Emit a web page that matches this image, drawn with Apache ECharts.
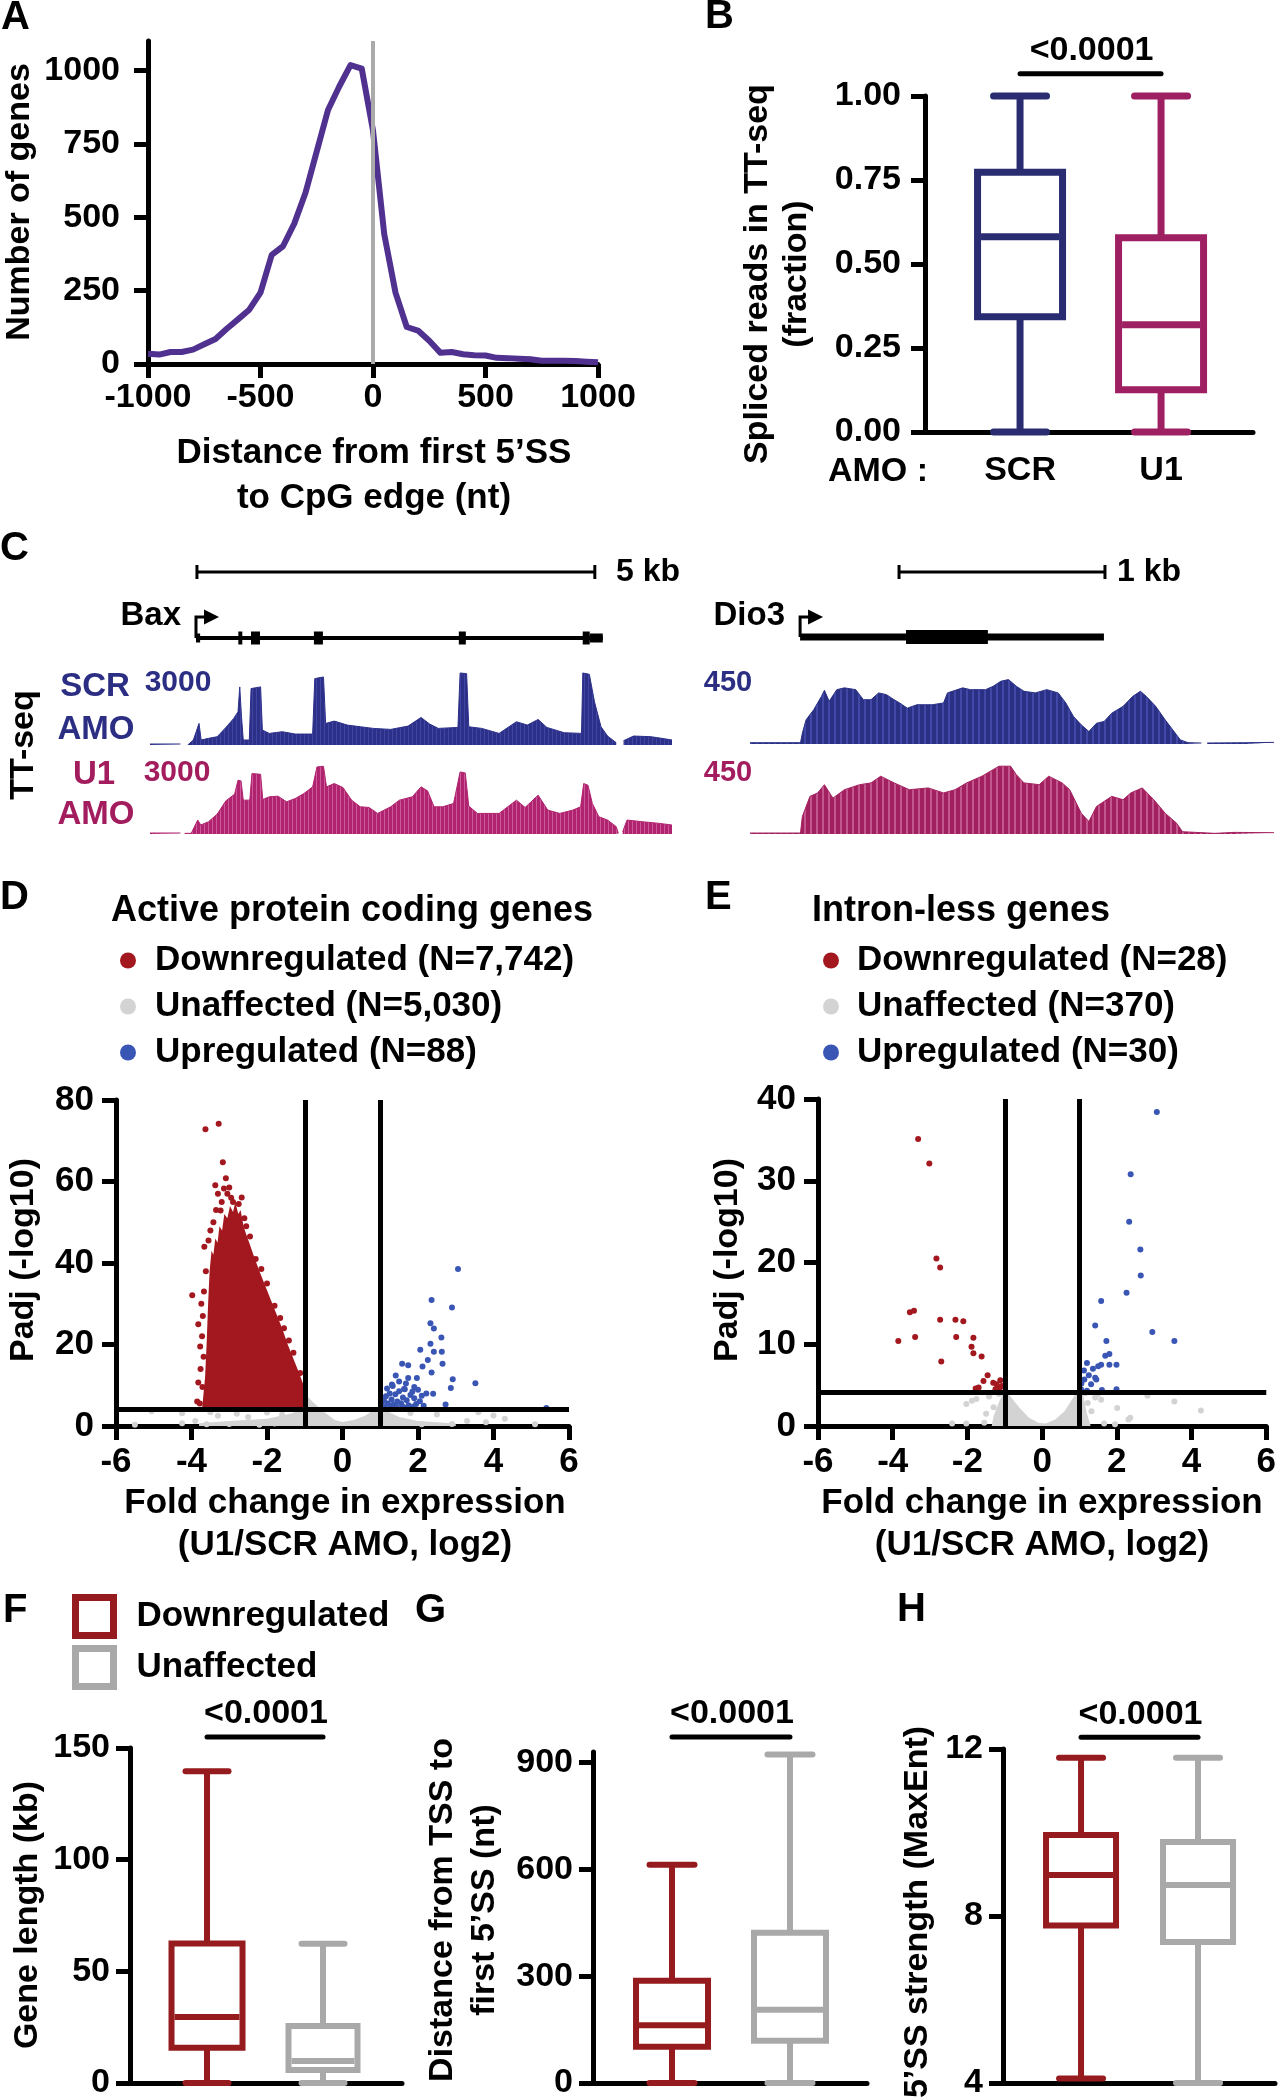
<!DOCTYPE html>
<html><head><meta charset="utf-8">
<script src="https://cdn.jsdelivr.net/npm/echarts@6/dist/echarts.min.js"></script>
<style>html,body{margin:0;padding:0;background:#fff}#c{width:1279px;height:2100px}</style>
</head><body><div id="c"></div>
<script>
// ---------------- DATA ----------------
// Panel A: distance from first 5'SS to CpG edge
const A_X = [-1000,-950,-900,-850,-800,-750,-700,-650,-600,-550,-500,-450,-400,-350,-300,-250,-200,-150,-100,-50,0,50,100,150,200,250,300,350,400,450,500,550,600,650,700,750,800,850,900,950,1000];
const A_Y = [35,32,41,41,49,67,85,120,152,185,243,372,401,478,583,724,865,945,1018,1006,795,442,243,126,114,79,38,41,33,30,29,21,20,18,16,11,11,11,10,8,6];
const A_YTICKS = [0,250,500,750,1000];

// Panel B: spliced reads fraction  [min, Q1, median, Q3, max]
const B_GROUPS = ['SCR','U1'];
const B_SCR = [0, 0.343, 0.581, 0.773, 1.00];
const B_U1  = [0, 0.126, 0.319, 0.578, 1.00];

// Panel C: TT-seq coverage  [bp, reads]
const BAX_SCR = [[0,41],[382,41],[409,null],[474,0],[545,205],[616,887],[643,205],[736,273],[845,341],[954,723],[1052,1091],[1106,1364],[1128,2387],[1150,1159],[1172,205],[1248,205],[1270,2319],[1390,2387],[1412,614],[1499,477],[1662,546],[1826,450],[2044,450],[2071,2728],[2180,2796],[2207,887],[2316,982],[2480,818],[2643,750],[2807,682],[3025,641],[3243,777],[3406,1132],[3515,859],[3624,682],[3870,723],[3897,2960],[3979,2933],[4006,750],[4169,682],[4387,477],[4605,955],[4742,818],[4878,1050],[4987,723],[5205,505],[5423,477],[5439,2960],[5521,2905],[5586,1773],[5668,750],[5750,368],[5859,95],[5880,null],[5951,177],[6077,368],[6295,341],[6431,273],[6560,205]];
const BAX_U1 = [[0,41],[382,41],[400,null],[436,27],[518,27],[600,573],[638,368],[736,505],[845,818],[954,1364],[1063,1637],[1106,2210],[1144,2182],[1172,1391],[1254,1391],[1281,2482],[1390,2455],[1417,1418],[1499,1528],[1608,1555],[1717,1323],[1826,1459],[1935,1664],[2044,1937],[2098,2755],[2180,2783],[2218,1937],[2316,2073],[2425,1910],[2534,1391],[2643,1118],[2752,1091],[2861,846],[3025,1118],[3134,1391],[3297,1528],[3406,1937],[3488,1773],[3570,1118],[3679,1118],[3815,1255],[3897,2551],[3962,2510],[4006,1146],[4115,846],[4387,846],[4605,1391],[4714,1091],[4878,1596],[4998,982],[5150,846],[5314,982],[5412,1118],[5450,2073],[5504,2005],[5559,1255],[5641,709],[5750,573],[5859,300],[5886,27],[5910,null],[5940,95],[5995,573],[6186,505],[6404,436],[6560,368]];
const DIO_SCR = [[0,8],[245,8],[254,66],[272,149],[309,211],[347,294],[361,331],[384,263],[421,335],[458,346],[513,335],[550,273],[587,273],[624,315],[662,304],[699,273],[726,253],[763,221],[810,242],[884,242],[939,253],[958,315],[1032,346],[1069,335],[1143,335],[1180,356],[1217,387],[1254,397],[1292,356],[1329,325],[1384,315],[1440,335],[1495,315],[1532,253],[1569,170],[1607,118],[1644,77],[1681,128],[1718,139],[1755,190],[1810,232],[1857,294],[1894,325],[1922,294],[1968,232],[2014,149],[2051,87],[2088,25],[2125,8],[2190,6],[2205,null],[2218,6],[2403,8],[2542,10]];
const DIO_U1 = [[0,6],[245,6],[254,108],[291,232],[328,253],[361,304],[402,221],[458,273],[532,304],[587,315],[634,356],[699,315],[773,273],[865,284],[939,253],[995,273],[1051,315],[1125,356],[1208,418],[1264,418],[1292,366],[1329,315],[1403,304],[1449,356],[1514,315],[1551,273],[1607,128],[1644,77],[1681,170],[1755,232],[1810,211],[1847,253],[1903,284],[1959,211],[2014,128],[2070,66],[2098,14],[2255,4],[2348,10],[2542,8]];
// gene models [start, end] (bp) and exons [start, end, type]
const BAX_TX = [[578, 5690]];
const BAX_EXONS = [[578,630,'utr'],[1110,1160,'cds'],[1269,1382,'cds'],[2060,2173,'cds'],[3881,3969,'cds'],[5438,5526,'cds'],[5526,5690,'utr']];
const BAX_SCALE = [[590, 5590]];
const DIO_TX = [[243, 1717]];
const DIO_EXONS = [[757,1154,'cds']];
const DIO_SCALE = [[723, 1722]];

// Panel D: active protein coding genes  [log2FC, -log10 padj]
const D_DOWN_CLOUD = [[-3.72,4.2],[-3.64,12],[-3.6,20],[-3.56,30],[-3.52,38],[-3.47,43],[-3.42,42],[-3.37,46],[-3.31,45],[-3.26,49],[-3.19,48],[-3.13,52],[-3.05,51],[-2.98,54],[-2.9,52.5],[-2.84,55],[-2.76,52],[-2.7,53],[-2.62,49],[-2.55,47],[-2.47,45],[-2.36,42],[-2.2,38],[-2.05,34.5],[-1.9,31],[-1.75,27.5],[-1.6,24],[-1.45,20],[-1.3,16.5],[-1.15,13],[-1.03,10],[-1.0,6],[-1.0,4.2]];
const D_DOWN = [[-3.63,72.8],[-3.28,74.2],[-3.17,64.7],[-3.09,60.8],[-3.37,59.1],[-3.14,58.3],[-2.67,56.1],[-2.90,55.0],[-3.23,52.9],[-3.98,32.1],[-3.82,25.0],[-3.77,19.5],[-3.82,10.7],[-3.71,9.6],[-3.62,38],[-3.67,33],[-3.7,27],[-3.72,22],[-3.76,14],[-3.66,44],[-3.5,48],[-3.05,57],[-2.75,54.5],[-3.35,53],[-3.55,45.5],[-3.85,6],[-3.78,5.5],[-2.55,49],[-2.3,41],[-2.0,35],[-1.8,29.5],[-1.55,24],[-1.3,18],[-1.12,13],[-2.95,56],[-3.2,55],[-3.42,50],[-2.6,51],[-3.0,58.5],[-3.3,57],[-3.68,17],[-3.74,30],[-2.45,46.5],[-2.15,38.5],[-1.65,26.5],[-1.42,21]];
const D_UNAFF_CLOUD = [[-3.8,0],[-3.8,0.7],[-3.0,1.2],[-2.0,1.8],[-1.3,3.2],[-1.0,8],[-0.8,6],[-0.5,3.5],[-0.2,1.5],[0,1],[0.3,1.5],[0.6,2.5],[0.9,4.5],[1.1,4],[1.5,2.2],[2.0,1.2],[3.0,0.6],[3.0,0]];
const D_UNAFF = [[-5.06,3.6],[-4.25,3.1],[-4.25,0.7],[-3.9,1.2],[4.3,1.8],[3.3,1.2],[2.9,0.5],[3.8,0.9],[-5.5,0.3],[2.5,2.8],[1.8,3.2],[2.1,0.4],[5.1,0.4],[-3.6,0.4],[-2.2,0.3],[3.6,3.4],[4.0,2.6],[-3.3,2.5],[-2.8,3.0],[-2.5,2.2],[-2.0,3.3],[-1.6,2.8],[-3.5,3.4],[-3.0,0.5],[-1.8,0.6]];
const D_UP = [[3.06,38.5],[2.36,30.9],[2.90,29.1],[2.33,25.2],[2.42,23.9],[2.62,21.7],[2.33,20.2],[2.06,18.7],[2.42,18.2],[2.63,18.2],[2.26,16.2],[2.65,15.3],[1.58,15.3],[1.74,14.9],[2.12,14.6],[2.36,13.1],[1.97,11.8],[2.92,11.5],[3.52,10.5],[1.41,12.4],[1.74,11.8],[2.22,8.0],[2.87,9.3],[2.73,5.3],[1.90,9.6],[1.63,9.1],[1.31,10.2],[5.4,4.4],
  [1.05,5.0],[1.1,6.2],[1.15,7.3],[1.2,5.5],[1.25,8.0],[1.3,6.5],[1.35,5.2],[1.4,7.8],[1.45,6.0],[1.5,8.5],[1.55,5.6],[1.6,7.0],[1.65,9.0],[1.7,6.3],[1.75,5.1],[1.8,7.6],[1.85,8.4],[1.9,6.8],[1.95,5.4],[2.0,8.9],[2.05,6.1],[2.1,7.4],[1.12,4.6],[1.28,4.8],[1.42,4.7],[1.58,4.9],[1.72,4.6],[1.88,4.8],[2.15,5.0],[2.4,7.9],[1.18,9.2],[1.33,9.8],[1.5,10.9],[1.68,10.4]];
const D_THRESH = {fc: 1, padj: 4.16};

// Panel E: intron-less genes
const E_DOWN = [[-3.32,35.1],[-3.02,32.1],[-2.83,20.5],[-2.73,19.4],[-3.54,13.9],[-3.43,14.1],[-3.85,10.4],[-3.40,10.9],[-2.73,13.0],[-2.32,13.0],[-2.11,12.8],[-2.30,10.9],[-1.84,10.8],[-1.89,9.7],[-1.84,8.9],[-1.62,8.5],[-2.70,7.9],[-1.46,6.2],[-1.57,5.5],[-1.31,5.3],[-1.22,5.1],[-1.12,5.6],[-1.78,4.6],[-1.73,4.6],[-1.14,4.6],[-1.08,4.9],[-1.25,4.5],[-1.70,4.7]];
const E_UP = [[3.07,38.4],[2.37,30.8],[2.33,25.0],[2.63,21.6],[2.64,18.4],[2.26,16.3],[1.58,15.3],[1.42,12.3],[2.95,11.5],[3.54,10.4],[1.72,10.4],[1.69,8.6],[1.80,8.8],[1.20,7.7],[1.58,7.5],[1.80,7.5],[1.99,7.5],[1.36,7.0],[1.50,7.3],[1.12,6.8],[1.13,5.7],[1.45,5.7],[1.42,5.9],[1.31,5.1],[1.99,4.5],[1.04,4.5],[1.2,4.3],[1.6,4.4],[1.25,6.2],[1.05,5.2]];
const E_UNAFF_CLOUD = [[-1.35,0],[-1.3,1.2],[-1.15,3.0],[-1.0,4.4],[-0.85,3.6],[-0.6,2.2],[-0.35,1.0],[-0.1,0.4],[0.1,0.3],[0.35,0.8],[0.6,1.8],[0.85,3.6],[1.0,5.0],[1.1,3.8],[1.2,1.5],[1.3,0]];
const E_UNAFF = [[-2.41,0.3],[-2.03,2.7],[-2.03,0.3],[-1.76,3.3],[-1.88,3.1],[-1.5,1.5],[-1.42,3.6],[-1.3,2.3],[-1.15,3.9],[-1.55,0.4],[1.58,3.2],[1.66,0.3],[2.01,2.2],[2.31,0.8],[2.36,1.0],[2.82,3.7],[3.54,3.0],[4.25,1.9],[1.42,3.5],[1.32,1.8],[1.22,2.8],[1.5,3.9],[1.95,0.2],[1.15,4.0]];
const E_THRESH = {fc: 1, padj: 4.09};

// Panels F-H: [min, Q1, median, Q3, max]
const F_DOWN = [0, 15.8, 29.5, 62.5, 139.6];
const F_UNAFF = [0, 5.8, 9.9, 25.5, 62.3];
const G_DOWN = [0, 102, 162, 287, 613];
const G_UNAFF = [0, 118.5, 206, 422, 923];
const H_DOWN = [4.11, 7.77, 8.98, 9.94, 11.79];
const H_UNAFF = [4.0, 7.38, 8.74, 9.77, 11.79];
const P_LABEL = '<0.0001';

// ---------------- STYLE ----------------
const FONT = '"Liberation Sans", Arial, Helvetica, sans-serif';
const K = '#000';
const PURPLE = '#51318f';
const B_NAVY = '#2a2c72', B_MAG = '#9e1f62';
const SCR_TXT = '#2b2e83', U1_TXT = '#a21c5e';
const RED = '#961b1e', GREY = '#a9a9a9';
const D_RED = '#a3181f', D_BLUE = '#3a56b4', D_GREY = '#d3d3d3';

function stripe(c1, c2, period, w2) {
  const cv = document.createElement('canvas'); cv.width = period; cv.height = 4;
  const ctx = cv.getContext('2d'); ctx.fillStyle = c1; ctx.fillRect(0, 0, period, 4);
  ctx.fillStyle = c2; ctx.fillRect(0, 0, w2, 4); return cv;
}
function merge(a, b) {
  const o = Object.assign({}, a);
  for (const k in b) {
    if (b[k] && typeof b[k] === 'object' && !Array.isArray(b[k]) && a[k] && typeof a[k] === 'object') o[k] = merge(a[k], b[k]);
    else o[k] = b[k];
  }
  return o;
}
const plain = v => String(v);
function vAxis(gi, o) {
  return merge({type:'value', gridIndex:gi,
    axisLine:{show:true, onZero:false, lineStyle:{color:K, width:5}},
    axisTick:{show:true, length:14, lineStyle:{color:K, width:5}},
    axisLabel:{color:K, fontSize:34, fontWeight:'bold', fontFamily:FONT, formatter:plain},
    splitLine:{show:false}}, o || {});
}
function hAxis(gi, o) { return merge({type:'value', gridIndex:gi, show:false, splitLine:{show:false}}, o || {}); }

function boxRender(st) {
  return function (params, api) {
    const x = api.value(0);
    const mn = api.coord([x, api.value(1)]), q1 = api.coord([x, api.value(2)]);
    const md = api.coord([x, api.value(3)]), q3 = api.coord([x, api.value(4)]);
    const mx = api.coord([x, api.value(5)]);
    const c = api.visual('color'), cx = mn[0], lw = st.lw;
    const ln = (x1, y1, x2, y2, cap) => ({type:'line', shape:{x1, y1, x2, y2}, style:{stroke:c, lineWidth:lw, lineCap:cap || 'butt'}});
    return {type:'group', children:[
      ln(cx, mx[1], cx, q3[1]), ln(cx, q1[1], cx, mn[1]),
      ln(cx - st.cw/2, mx[1], cx + st.cw/2, mx[1], 'round'),
      ln(cx - st.cw/2, mn[1], cx + st.cw/2, mn[1], 'round'),
      {type:'rect', shape:{x:cx - st.bw/2 + lw/2, y:q3[1], width:st.bw - lw, height:q1[1] - q3[1]}, style:{fill:'#fff', stroke:c, lineWidth:lw}},
      ln(cx - st.bw/2 + lw, md[1], cx + st.bw/2 - lw, md[1])
    ]};
  };
}
function boxSeries(name, gi, color, x, vals, st) {
  return {type:'custom', name, xAxisIndex:gi, yAxisIndex:gi, clip:false, z:3, itemStyle:{color},
    encode:{x:0, y:[1,2,3,4,5]}, data:[[x].concat(vals)], renderItem:boxRender(st)};
}
function sigSeries(gi, x1, x2, yv) {
  return {type:'custom', xAxisIndex:gi, yAxisIndex:gi, clip:false, z:4, silent:true,
    encode:{x:[0,1], y:2}, data:[[x1, x2, yv]],
    renderItem:(p, api) => {
      const a = api.coord([api.value(0), api.value(2)]), b = api.coord([api.value(1), api.value(2)]);
      return {type:'group', children:[
        {type:'line', shape:{x1:a[0], y1:a[1], x2:b[0], y2:b[1]}, style:{stroke:K, lineWidth:5, lineCap:'round'}},
        {type:'text', x:(a[0]+b[0])/2 + 1, y:a[1] - 23, style:{text:P_LABEL, fill:K, font:'bold 34px ' + FONT, align:'center', verticalAlign:'middle'}}
      ]};
    }};
}
function trackSeries(gi, data, col, pat) {
  return {type:'line', xAxisIndex:gi, yAxisIndex:gi, data, showSymbol:false, symbol:'none', connectNulls:false,
    lineStyle:{color:col, width:1}, areaStyle:{color:{image:pat, repeat:'repeat'}, opacity:1}, silent:true};
}
function geneSeries(gi, tx, lw, ah) {
  return {type:'custom', xAxisIndex:gi, yAxisIndex:gi, clip:false, silent:true, encode:{x:[0,1]}, data:tx,
    renderItem:(p, api) => {
      const a = api.coord([api.value(0), 0]), b = api.coord([api.value(1), 0]), y = a[1];
      return {type:'group', children:[
        {type:'line', shape:{x1:a[0], y1:y, x2:b[0], y2:y}, style:{stroke:K, lineWidth:lw}},
        {type:'polyline', shape:{points:[[a[0], y], [a[0], y - ah], [a[0] + 10, y - ah]]}, style:{stroke:K, lineWidth:3, fill:null}},
        {type:'polygon', shape:{points:[[a[0] + 8, y - ah - 7.5], [a[0] + 23, y - ah], [a[0] + 8, y - ah + 7.5]]}, style:{fill:K}}
      ]};
    }};
}
function exonSeries(gi, ex, hC, hU) {
  return {type:'custom', xAxisIndex:gi, yAxisIndex:gi, clip:false, silent:true, encode:{x:[0,1]}, data:ex,
    renderItem:(p, api) => {
      const a = api.coord([api.value(0), 0]), b = api.coord([api.value(1), 0]);
      const h = ex[p.dataIndex][2] === 'cds' ? hC : hU;
      return {type:'rect', shape:{x:a[0], y:a[1] - h/2, width:Math.max(b[0] - a[0], 3), height:h}, style:{fill:K}};
    }};
}
function scaleSeries(gi, sc) {
  return {type:'custom', xAxisIndex:gi, yAxisIndex:gi, clip:false, silent:true, encode:{x:[0,1]}, data:sc,
    renderItem:(p, api) => {
      const a = api.coord([api.value(0), 1]), b = api.coord([api.value(1), 1]);
      const ls = {stroke:K, lineWidth:3};
      return {type:'group', children:[
        {type:'line', shape:{x1:a[0], y1:a[1], x2:b[0], y2:b[1]}, style:ls},
        {type:'line', shape:{x1:a[0], y1:a[1] - 7, x2:a[0], y2:a[1] + 7}, style:ls},
        {type:'line', shape:{x1:b[0], y1:b[1] - 7, x2:b[0], y2:b[1] + 7}, style:ls}
      ]};
    }};
}
function cloudSeries(name, gi, color, pts, z) {
  return {type:'custom', name, xAxisIndex:gi, yAxisIndex:gi, silent:true, z, itemStyle:{color},
    data:[pts[0]], renderItem:(p, api) => ({type:'polygon', shape:{points:pts.map(q => api.coord(q))}, style:{fill:color}})};
}
function scat(name, gi, data, color, z) {
  return {type:'scatter', name, xAxisIndex:gi, yAxisIndex:gi, data, symbolSize:6, itemStyle:{color, opacity:1}, z, silent:true};
}
function guideSeries(gi, marks, color, width, z) {
  return {type:'line', xAxisIndex:gi, yAxisIndex:gi, data:[], silent:true, z,
    markLine:{silent:true, symbol:'none', animation:false, label:{show:false}, lineStyle:{color, width, type:'solid'}, data:marks}};
}
function txt(text, x, y, size, o) {
  o = o || {};
  return {type:'text', x, y, rotation:o.rot || 0, z:100, silent:true,
    style:{text, fill:o.color || K, font:'bold ' + size + 'px ' + FONT, align:o.align || 'center', verticalAlign:'middle', lineHeight:o.lh || size}};
}

const scrPatBax = stripe('#2c3089', '#4146a2', 4, 1), u1PatBax = stripe('#b0236f', '#cc5a9b', 4, 1);
const scrPatDio = stripe('#2a3084', '#4248a6', 6, 2), u1PatDio = stripe('#a3205f', '#c2568f', 6, 2);

const grids = [
  {left:148, top:41, width:450, height:323},    // 0 A
  {left:925, top:96, width:328, height:336},    // 1 B
  {left:150, top:672, width:522, height:73},    // 2 Bax SCR
  {left:150, top:761, width:522, height:73},    // 3 Bax U1
  {left:750, top:671, width:524, height:73},    // 4 Dio3 SCR
  {left:750, top:761, width:524, height:73},    // 5 Dio3 U1
  {left:150, top:572, width:522, height:66},    // 6 Bax gene
  {left:750, top:572, width:524, height:65},    // 7 Dio3 gene
  {left:116, top:1100, width:453, height:326},  // 8 D
  {left:818, top:1099, width:454, height:327},  // 9 E
  {left:130, top:1748, width:272, height:338},  // 10 F
  {left:593, top:1752, width:274, height:335},  // 11 G
  {left:1003, top:1749, width:272, height:338}  // 12 H
];
const xAxes = [
  vAxis(0, {min:-1000, max:1000, interval:500, axisLabel:{margin:17}}),
  vAxis(1, {min:0.326, max:2.652, axisTick:{show:false}, axisLabel:{margin:22, customValues:[1,2], formatter:v => B_GROUPS[Math.round(v) - 1]}}),
  hAxis(2, {min:0, max:6560}), hAxis(3, {min:0, max:6560}),
  hAxis(4, {min:0, max:2542}), hAxis(5, {min:0, max:2542}),
  hAxis(6, {min:0, max:6560}), hAxis(7, {min:0, max:2542}),
  vAxis(8, {min:-6, max:6, interval:2, axisLabel:{margin:19, fontSize:35}}),
  vAxis(9, {min:-6, max:6, interval:2, axisLabel:{margin:19, fontSize:35}}),
  vAxis(10, {min:0.336, max:2.681, axisTick:{show:false}, axisLabel:{show:false}}),
  vAxis(11, {min:0.33, max:2.653, axisTick:{show:false}, axisLabel:{show:false}}),
  vAxis(12, {min:0.333, max:2.658, axisTick:{show:false}, axisLabel:{show:false}})
];
const yAxes = [
  vAxis(0, {min:0, max:1100, axisTick:{customValues:A_YTICKS}, axisLabel:{customValues:A_YTICKS, margin:28}}),
  vAxis(1, {min:0, max:1, interval:0.25, axisLabel:{margin:24, formatter:v => v.toFixed(2)}}),
  hAxis(2, {min:0, max:3000}), hAxis(3, {min:0, max:3000}),
  hAxis(4, {min:0, max:450}), hAxis(5, {min:0, max:450}),
  hAxis(6, {min:0, max:1}), hAxis(7, {min:0, max:1}),
  vAxis(8, {min:0, max:80, interval:20, axisLabel:{margin:22, fontSize:35}}),
  vAxis(9, {min:0, max:40, interval:10, axisLabel:{margin:22, fontSize:35}}),
  vAxis(10, {min:0, max:150, interval:50, axisLabel:{margin:20}}),
  vAxis(11, {min:0, max:930, axisTick:{customValues:[0,300,600,900]}, axisLabel:{customValues:[0,300,600,900], margin:20}}),
  vAxis(12, {min:4, max:12, interval:4, axisLabel:{margin:20}})
];

const series = [
  // A
  guideSeries(0, [{xAxis:0}], '#aaaaaa', 4, 1),
  {type:'line', xAxisIndex:0, yAxisIndex:0, data:A_X.map((x, i) => [x, A_Y[i]]), showSymbol:false, symbol:'none', z:3,
    lineStyle:{color:PURPLE, width:6, join:'round'}, silent:true},
  // B
  boxSeries('SCR', 1, B_NAVY, 1, B_SCR, {bw:92, cw:53, lw:7}),
  boxSeries('U1', 1, B_MAG, 2, B_U1, {bw:92, cw:53, lw:7}),
  sigSeries(1, 1, 2, 1.066),
  // C
  trackSeries(2, BAX_SCR, '#2c3089', scrPatBax),
  trackSeries(3, BAX_U1, '#b0236f', u1PatBax),
  trackSeries(4, DIO_SCR, '#2a3084', scrPatDio),
  trackSeries(5, DIO_U1, '#a3205f', u1PatDio),
  geneSeries(6, BAX_TX, 4, 21), exonSeries(6, BAX_EXONS, 13, 9), scaleSeries(6, BAX_SCALE),
  geneSeries(7, DIO_TX, 7, 20), exonSeries(7, DIO_EXONS, 14, 9), scaleSeries(7, DIO_SCALE),
  // D
  cloudSeries('Unaffected (N=5,030)', 8, D_GREY, D_UNAFF_CLOUD, 2),
  scat('Unaffected (N=5,030)', 8, D_UNAFF, D_GREY, 2),
  cloudSeries('Downregulated (N=7,742)', 8, D_RED, D_DOWN_CLOUD, 3),
  scat('Downregulated (N=7,742)', 8, D_DOWN, D_RED, 3),
  scat('Upregulated (N=88)', 8, D_UP, D_BLUE, 3),
  guideSeries(8, [{xAxis:-D_THRESH.fc}, {xAxis:D_THRESH.fc}, {yAxis:D_THRESH.padj}], K, 5, 6),
  // E
  cloudSeries('Unaffected (N=370)', 9, D_GREY, E_UNAFF_CLOUD, 2),
  scat('Unaffected (N=370)', 9, E_UNAFF, D_GREY, 2),
  scat('Downregulated (N=28)', 9, E_DOWN, D_RED, 3),
  scat('Upregulated (N=30)', 9, E_UP, D_BLUE, 3),
  guideSeries(9, [{xAxis:-E_THRESH.fc}, {xAxis:E_THRESH.fc}, {yAxis:E_THRESH.padj}], K, 5, 6),
  // F
  boxSeries('Downregulated', 10, RED, 1, F_DOWN, {bw:77, cw:43, lw:6}),
  boxSeries('Unaffected', 10, GREY, 2, F_UNAFF, {bw:75, cw:43, lw:6}),
  sigSeries(10, 1, 2, 154.9),
  // G
  boxSeries('Downregulated', 11, RED, 1, G_DOWN, {bw:78, cw:45, lw:6}),
  boxSeries('Unaffected', 11, GREY, 2, G_UNAFF, {bw:78, cw:45, lw:6}),
  sigSeries(11, 1, 2, 972),
  // H
  boxSeries('Downregulated', 12, RED, 1, H_DOWN, {bw:76, cw:44, lw:6}),
  boxSeries('Unaffected', 12, GREY, 2, H_UNAFF, {bw:76, cw:44, lw:6}),
  sigSeries(12, 1, 2, 12.28)
];

const legTxt = (size, pad) => ({fontSize:size, fontWeight:'bold', fontFamily:FONT, color:K, padding:[0,0,0,pad]});
const legend = [
  {orient:'vertical', left:67, top:1589, itemWidth:38, itemHeight:38, itemGap:6, selectedMode:false, textStyle:legTxt(35, 18),
    data:[{name:'Downregulated', icon:'rect', itemStyle:{color:'#fff', borderColor:RED, borderWidth:7}},
          {name:'Unaffected', icon:'rect', itemStyle:{color:'#fff', borderColor:GREY, borderWidth:7}}]},
  {orient:'vertical', left:115, top:938, itemWidth:16, itemHeight:16, itemGap:11, selectedMode:false, textStyle:legTxt(35, 14),
    data:[{name:'Downregulated (N=7,742)', icon:'circle', itemStyle:{color:D_RED}},
          {name:'Unaffected (N=5,030)', icon:'circle', itemStyle:{color:D_GREY}},
          {name:'Upregulated (N=88)', icon:'circle', itemStyle:{color:D_BLUE}}]},
  {orient:'vertical', left:818, top:938, itemWidth:16, itemHeight:16, itemGap:11, selectedMode:false, textStyle:legTxt(35, 13),
    data:[{name:'Downregulated (N=28)', icon:'circle', itemStyle:{color:D_RED}},
          {name:'Unaffected (N=370)', icon:'circle', itemStyle:{color:D_GREY}},
          {name:'Upregulated (N=30)', icon:'circle', itemStyle:{color:D_BLUE}}]}
];

const R = Math.PI / 2;
const graphic = [
  txt('A', 1, 18, 40, {align:'left'}), txt('B', 705, 17, 40, {align:'left'}), txt('C', 0, 549, 40, {align:'left'}),
  txt('D', 0, 898, 40, {align:'left'}), txt('E', 705, 898, 40, {align:'left'}), txt('F', 3, 1611, 40, {align:'left'}),
  txt('G', 415, 1611, 40, {align:'left'}), txt('H', 897, 1610, 40, {align:'left'}),
  // A
  txt('Distance from first 5\u2019SS\nto CpG edge (nt)', 374, 476, 35, {lh:45}),
  txt('Number of genes', 20, 202, 34, {rot:R}),
  // B
  txt('Spliced reads in TT-seq\n(fraction)', 777, 274, 34, {rot:R, lh:39}),
  txt('AMO :', 878, 472, 34),
  // C
  txt('5 kb', 616, 572, 32, {align:'left'}), txt('Bax', 181, 616, 33, {align:'right'}),
  txt('1 kb', 1117, 572, 32, {align:'left'}), txt('Dio3', 785, 616, 33, {align:'right'}),
  txt('SCR', 95, 687, 33, {color:SCR_TXT}), txt('AMO', 96, 730, 33, {color:SCR_TXT}), txt('3000', 178, 683, 30, {color:SCR_TXT}),
  txt('U1', 94, 775, 33, {color:U1_TXT}), txt('AMO', 96, 815, 33, {color:U1_TXT}), txt('3000', 177, 773, 30, {color:U1_TXT}),
  txt('450', 728, 683, 29, {color:SCR_TXT}), txt('450', 728, 773, 29, {color:U1_TXT}),
  txt('TT-seq', 24, 745, 34, {rot:R}),
  // D / E
  txt('Active protein coding genes', 352, 911, 36),
  txt('Intron-less genes', 961, 911, 36),
  txt('Fold change in expression\n(U1/SCR AMO, log2)', 345, 1524, 35, {lh:42}),
  txt('Fold change in expression\n(U1/SCR AMO, log2)', 1042, 1524, 35, {lh:42}),
  txt('Padj (-log10)', 24, 1260, 34, {rot:R}),
  txt('Padj (-log10)', 728, 1260, 34, {rot:R}),
  // F G H
  txt('Gene length (kb)', 28, 1915, 34, {rot:R}),
  txt('Distance from TSS to\nfirst 5\u2019SS (nt)', 464, 1910, 34, {rot:R, lh:42}),
  txt('5\u2019SS strength (MaxEnt)', 918, 1912, 34, {rot:R})
];

const chart = echarts.init(document.getElementById('c'), null, {renderer:'canvas', width:1279, height:2100});
chart.setOption({animation:false, backgroundColor:'#fff', grid:grids, xAxis:xAxes, yAxis:yAxes, series, legend, graphic});
</script></body></html>
